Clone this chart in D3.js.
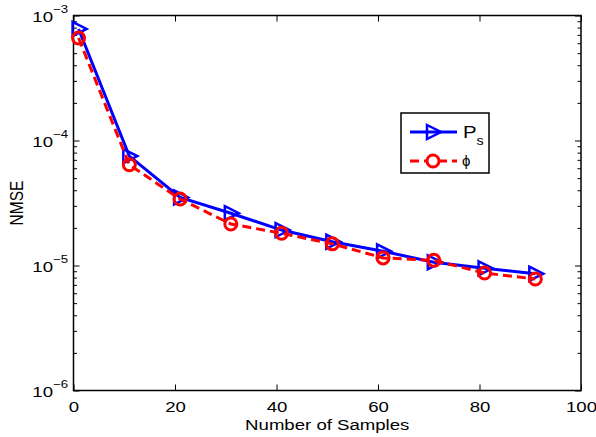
<!DOCTYPE html>
<html>
<head>
<meta charset="utf-8">
<script src="https://cdn.jsdelivr.net/npm/d3@7"></script>
<style>
  body { margin: 0; background: #fff; }
  text { font-family: "Liberation Sans", Arial, Helvetica, sans-serif; }
</style>
</head>
<body>
<div id="chart-container"></div>
<script>
// Data
const samples = [1, 11, 21, 31, 41, 51, 61, 71, 81, 91];
const nmsePs  = [7.8e-4, 7.5e-5, 3.5e-5, 2.62e-5, 1.92e-5, 1.55e-5, 1.3e-5, 1.06e-5, 9.5e-6, 8.6e-6];
const nmsePhi = [6.6e-4, 6.4e-5, 3.4e-5, 2.15e-5, 1.81e-5, 1.49e-5, 1.15e-5, 1.1e-5, 8.7e-6, 7.8e-6];
const xTicks = [0, 20, 40, 60, 80, 100];
const yDomain = [1e-6, 1e-3];

function init() {
  const W = 596, H = 437;
  const margin = { top: 15.5, right: 15, bottom: 46.5, left: 73.5 };
  const width = W - margin.left - margin.right;
  const height = H - margin.top - margin.bottom;
  const sx = 1.2;      // the original figure text is a bit wide
  const fs = "15.5px";

  const svg = d3.select("#chart-container")
    .append("svg")
      .attr("width", W)
      .attr("height", H);

  const g = svg.append("g")
    .attr("transform", `translate(${margin.left},${margin.top})`);

  const xScale = d3.scaleLinear().domain([0, 100]).range([0, width]);
  const yScale = d3.scaleLog().domain(yDomain).range([height, 0]);

  const isMajor = v => Math.abs(Math.log10(v) - Math.round(Math.log10(v))) < 1e-9;

  // Bottom axis
  const xAxis = g.append("g")
    .attr("transform", `translate(0,${height})`)
    .call(d3.axisBottom(xScale).tickValues(xTicks).tickSizeInner(-6).tickSizeOuter(0).tickPadding(11));
  xAxis.selectAll("text")
    .attr("font-size", fs)
    .attr("fill", "#000")
    .attr("transform", `scale(${sx},1)`);

  // Top axis (ticks only)
  g.append("g")
    .call(d3.axisTop(xScale).tickValues(xTicks).tickSizeInner(-6).tickSizeOuter(0).tickFormat(""));

  // Left axis
  const yAxis = g.append("g")
    .call(d3.axisLeft(yScale).tickSizeInner(-3.5).tickSizeOuter(0).tickFormat(""));
  yAxis.selectAll(".tick line")
    .attr("x2", d => isMajor(d) ? 6 : 3.5);
  yAxis.selectAll(".tick")
    .filter(d => isMajor(d))
    .append("text")
      .attr("x", -5.5 / sx)
      .attr("y", 5.5)
      .attr("transform", `scale(${sx},1)`)
      .attr("text-anchor", "end")
      .attr("fill", "#000")
      .attr("font-size", fs)
      .each(function(d) {
        const t = d3.select(this);
        t.append("tspan").text("10");
        t.append("tspan")
          .attr("dy", -9)
          .attr("font-size", "11px")
          .text("\u2212" + Math.round(-Math.log10(d)));
      });

  // Right axis (ticks only)
  const yAxisR = g.append("g")
    .attr("transform", `translate(${width},0)`)
    .call(d3.axisRight(yScale).tickSizeInner(-3.5).tickSizeOuter(0).tickFormat(""));
  yAxisR.selectAll(".tick line")
    .attr("x2", d => isMajor(d) ? -6 : -3.5);

  g.selectAll(".domain").remove();

  // Box
  g.append("rect")
    .attr("width", width)
    .attr("height", height)
    .attr("fill", "none")
    .attr("stroke", "#000")
    .attr("stroke-width", 1.5);

  g.selectAll(".tick line").attr("stroke", "#000").attr("stroke-width", 1);

  const line = d3.line()
    .x(d => xScale(d[0]))
    .y(d => yScale(d[1]));

  const triPath = "M-6,-7L8,0L-6,7Z";

  // Ps series
  const psData = samples.map((s, i) => [s, nmsePs[i]]);
  g.append("path")
    .datum(psData)
    .attr("d", line)
    .attr("fill", "none")
    .attr("stroke", "#0000ff")
    .attr("stroke-width", 3);
  g.selectAll(".tri")
    .data(psData)
    .enter()
    .append("path")
      .attr("class", "tri")
      .attr("transform", d => `translate(${xScale(d[0])},${yScale(d[1])})`)
      .attr("d", triPath)
      .attr("fill", "none")
      .attr("stroke", "#0000ff")
      .attr("stroke-width", 2.5);

  // phi series
  const phiData = samples.map((s, i) => [s, nmsePhi[i]]);
  g.append("path")
    .datum(phiData)
    .attr("d", line)
    .attr("fill", "none")
    .attr("stroke", "#ff0000")
    .attr("stroke-width", 3)
    .attr("stroke-dasharray", "9,5");
  g.selectAll(".circ")
    .data(phiData)
    .enter()
    .append("circle")
      .attr("class", "circ")
      .attr("cx", d => xScale(d[0]))
      .attr("cy", d => yScale(d[1]))
      .attr("r", 6)
      .attr("fill", "none")
      .attr("stroke", "#ff0000")
      .attr("stroke-width", 3);

  // Axis labels
  svg.append("text")
    .attr("transform", `translate(${margin.left + width / 2},430) scale(${sx},1)`)
    .attr("text-anchor", "middle")
    .attr("font-size", fs)
    .text("Number of Samples");

  svg.append("text")
    .attr("transform", `translate(23,${margin.top + height / 2}) scale(${sx},1) rotate(-90)`)
    .attr("text-anchor", "middle")
    .attr("font-size", fs)
    .text("NMSE");

  // Legend
  const leg = svg.append("g").attr("transform", "translate(401,113)");
  leg.append("rect")
    .attr("width", 88)
    .attr("height", 60)
    .attr("fill", "#fff")
    .attr("stroke", "#000")
    .attr("stroke-width", 1.5);

  leg.append("line")
    .attr("x1", 9).attr("x2", 56).attr("y1", 19).attr("y2", 19)
    .attr("stroke", "#0000ff").attr("stroke-width", 3);
  leg.append("path")
    .attr("transform", "translate(32,19)")
    .attr("d", triPath)
    .attr("fill", "none")
    .attr("stroke", "#0000ff")
    .attr("stroke-width", 2.5);
  const pt = leg.append("text")
    .attr("transform", `translate(62,25) scale(${sx},1)`)
    .attr("font-size", "17px");
  pt.append("tspan").text("P");
  pt.append("tspan").attr("dy", 7).attr("font-size", "12px").text("s");

  leg.append("line")
    .attr("x1", 9).attr("x2", 56).attr("y1", 48).attr("y2", 48)
    .attr("stroke", "#ff0000").attr("stroke-width", 3)
    .attr("stroke-dasharray", "9,5");
  leg.append("circle")
    .attr("cx", 32).attr("cy", 48).attr("r", 6)
    .attr("fill", "#fff")
    .attr("stroke", "#ff0000")
    .attr("stroke-width", 3);
  leg.append("text")
    .attr("transform", "translate(61,53)")
    .attr("font-size", "15px")
    .attr("font-family", "DejaVu Serif, serif")
    .text("\u03d5");
}

window.onload = init;
</script>
</body>
</html>
